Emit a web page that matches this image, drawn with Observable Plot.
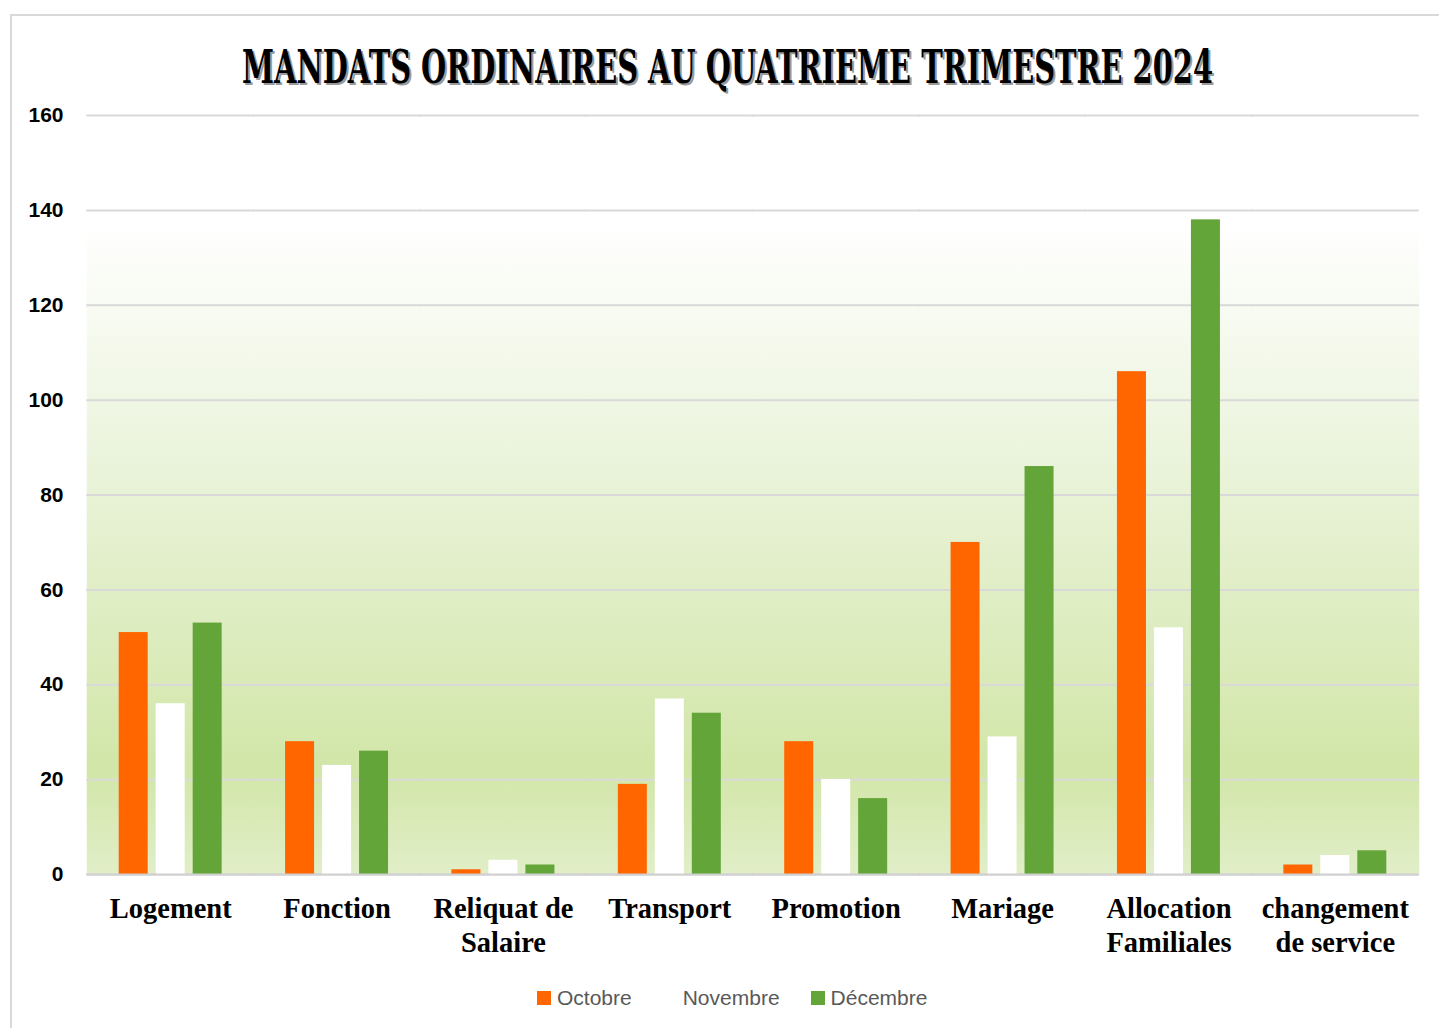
<!DOCTYPE html>
<html>
<head>
<meta charset="utf-8">
<script src="https://cdn.jsdelivr.net/npm/d3@7"></script>
<script src="https://cdn.jsdelivr.net/npm/@observablehq/plot@0.6"></script>
<style>
  html, body { margin: 0; padding: 0; background: #fff; width: 1439px; height: 1028px; overflow: hidden; }
  #frame { position: absolute; left: 10px; top: 14px; width: 1450px; height: 1030px; border: 2px solid #d9d9d9; box-sizing: border-box; }
  #title { position: absolute; left: 0; top: 0; }
  #chart { position: absolute; left: 0; top: 95px; }
  #legend { position: absolute; top: 984px; left: 537px; display: flex; gap: 31px; font-family: "Liberation Sans", Arial, sans-serif; font-size: 21px; color: #595959; }
  #legend .item { display: flex; align-items: center; gap: 6px; height: 28px; }
  #legend .sw { width: 14px; height: 14px; display: inline-block; }
</style>
</head>
<body>
<div id="frame"></div>
<svg id="title" width="1439" height="100"></svg>
<div id="chart"></div>
<div id="legend"></div>
<script>
const titleText = "MANDATS ORDINAIRES AU QUATRIEME TRIMESTRE 2024";
const categories = ["Logement", "Fonction", "Reliquat de Salaire", "Transport", "Promotion", "Mariage", "Allocation Familiales", "changement de service"];
const categoryLabels = ["Logement", "Fonction", "Reliquat de\nSalaire", "Transport", "Promotion", "Mariage", "Allocation\nFamiliales", "changement\nde service"];
const months = ["Octobre", "Novembre", "Décembre"];
const monthColors = ["#ff6600", "#ffffff", "#63a538"];
const octobre  = [51, 28, 1, 19, 28, 70, 106, 2];
const novembre = [36, 23, 3, 37, 20, 29, 52, 4];
const decembre = [53, 26, 2, 34, 16, 86, 138, 5];
const yTicks = [0, 20, 40, 60, 80, 100, 120, 140, 160];

const series = [octobre, novembre, decembre];
const data = [];
categories.forEach((c, i) => months.forEach((m, j) => data.push({cat: c, month: m, value: series[j][i]})));

// Title
const tsvg = d3.select("#title");
const tx = 727.5, ty = 83;
[["#9a9a9a", 2, 2], ["#000", 0, 0]].forEach(([col, dx, dy]) => {
  tsvg.append("text")
    .attr("transform", `translate(${tx + dx},${ty + dy}) scale(1,1.36)`)
    .attr("text-anchor", "middle")
    .attr("textLength", 971).attr("lengthAdjust", "spacingAndGlyphs")
    .style("font-family", "'DejaVu Serif', serif")
    .style("font-weight", "bold")
    .style("font-size", "34px")
    .attr("fill", col)
    .text(titleText);
});

const labelOf = new Map(categories.map((c, i) => [c, categoryLabels[i]]));

const plot = Plot.plot({
  width: 1439,
  height: 869,
  marginLeft: 87,
  marginRight: 21,
  marginTop: 20,
  marginBottom: 90,
  fx: {domain: categories, padding: 0, round: false},
  x: {domain: months, paddingInner: 0.216, paddingOuter: 0.857, round: false, axis: null},
  y: {domain: [0, 160]},
  color: {domain: months, range: monthColors},
  marks: [
    Plot.frame({fill: "url(#bggrad)", stroke: null, inset: -0.75}),
    Plot.gridY(yTicks, {stroke: "#d9d9d9", strokeOpacity: 1, strokeWidth: 2, insetLeft: -0.75, insetRight: -0.75}),
    Plot.axisY(yTicks, {tickSize: 0, tickPadding: 24, label: null, fontSize: 21, fontWeight: "bold", fontFamily: "'Liberation Sans', Arial, sans-serif", fill: "#000"}),
    Plot.axisFx({anchor: "bottom", tickSize: 0, tickPadding: 19, label: null, fontSize: 28.5, fontWeight: "bold", fontFamily: "'Liberation Serif', 'Times New Roman', serif", fill: "#000", lineHeight: 1.2, tickFormat: d => labelOf.get(d)}),
    Plot.barY(data, {fx: "cat", x: "month", y: "value", fill: "month"}),
    Plot.ruleY([0], {stroke: "#d0d0d0", strokeWidth: 2, insetLeft: -0.75, insetRight: -0.75})
  ]
});

plot.insertAdjacentHTML("afterbegin",
  `<defs><linearGradient id="bggrad" x1="0" y1="0" x2="0" y2="1">
     <stop offset="0" stop-color="#ffffff"/>
     <stop offset="0.14" stop-color="#ffffff"/>
     <stop offset="0.45" stop-color="#ebf4dc"/>
     <stop offset="0.86" stop-color="#d2e6a8"/>
     <stop offset="1" stop-color="#e1eec8"/>
   </linearGradient></defs>`);
document.getElementById("chart").appendChild(plot);

// Legend
const leg = d3.select("#legend");
months.forEach((m, j) => {
  const it = leg.append("div").attr("class", "item");
  it.append("span").attr("class", "sw").style("background", monthColors[j]);
  it.append("span").text(m);
});
</script>
</body>
</html>
